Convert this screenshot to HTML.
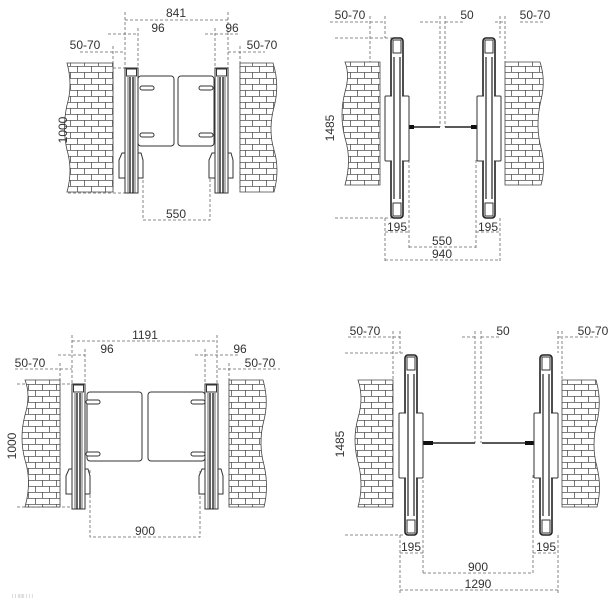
<!DOCTYPE html>
<html><head><style>html,body{margin:0;padding:0;background:#fff}svg{display:block}</style></head><body>
<svg width="615" height="600" viewBox="0 0 615 600" xmlns="http://www.w3.org/2000/svg" font-family="Liberation Sans, sans-serif" font-size="12" fill="#333">
<defs>
<pattern id="br" width="14" height="12" patternUnits="userSpaceOnUse">
<rect width="14" height="12" fill="#fff"/>
<path d="M0 0.5H14M0 6.5H14M0.5 0V6M7.5 6V12" stroke="#555" stroke-width="0.8" fill="none"/>
</pattern>
<g id="fpL">
<rect x="0" y="0" width="13" height="125" fill="#fff" stroke="#333"/>
<rect x="1.5" y="1" width="10" height="7" fill="#fff" stroke="#333"/>
<path d="M3 9V125M10 9V125" stroke="#444" stroke-width="0.8"/>
<path d="M5 9V125M8 9V125" stroke="#222" stroke-width="1.4"/>
<path d="M-6 92 L-3 85 H0 V110 H-6Z M13 85 H16 L18 92 V110 H13Z" fill="#fff" stroke="#333"/>
</g>
<g id="tp">
<rect x="0" y="0" width="12" height="180" rx="3" fill="#fff" stroke="#222" stroke-width="1.6"/>
<rect x="2" y="2" width="8" height="13" fill="#fff" stroke="#333"/>
<rect x="2" y="165" width="8" height="13" fill="#fff" stroke="#333"/>
<rect x="-6" y="58" width="10" height="65" rx="1" fill="#fff" stroke="#333"/>
<rect x="8" y="58" width="10" height="65" rx="1" fill="#fff" stroke="#333"/>
<rect x="1" y="57" width="10" height="67" fill="#fff"/>
<path d="M3 19V161M9 19V161" stroke="#222" stroke-width="1.2"/>
</g>
</defs>
<g stroke="#666" stroke-width="0.8" stroke-dasharray="3,2" fill="none">
<path d="M125 20H228M125 12V68M228 12V68M108 34H138M205 34H240M138 28V150M215 28V150M80 52H125M228 52H265M113 46V192M240 46V192M68 68H125M68 193H125M143 160V220H210V160"/>
<path d="M330 22H385M370 16V62M385 16V38M420 22H440M445 22H465M440 16V127M445 16V127M495 22H505M520 22H545M505 16V62M500 16V38M335 38H392M335 218H392M385 218V262M409 160V250M476 160V250M500 218V262M385 232H409M476 232H500M409 247H476M385 260H500"/>
<path d="M72 341H217M72 335V384M217 335V384M58 355H85M195 355H240M85 349V470M205 349V470M15 369H72M218 369H280M60 363V507M229 363V507M17 384H72M17 507H72M90 470V537H200V470"/>
<path d="M348 337H400M393 331V380M400 331V353M462 337H475M481 337H500M475 331V443M481 331V443M558 337H562M565 337H600M562 331V380M558 331V353M345 353H405M345 535H405M400 535V593M423 475V575M533 475V575M558 535V593M400 553H423M533 553H558M423 573H533M400 590H558"/>
</g>
<g stroke="#444" fill="url(#br)" stroke-width="0.8">
<path d="M67 63H113V192H67Q73 170 67 150Q62 128 67 105Q73 85 67 63Z"/>
<path d="M240 63H273Q280 85 274 107Q268 130 274 150Q280 170 274 192H240Z"/>
<path d="M345 62H380V185H345Q352 160 345 138Q339 115 345 92Q350 75 345 62Z"/>
<path d="M505 62H540Q546 80 541 100Q535 125 541 148Q546 168 541 185H505Z"/>
<path d="M25 380H60V507H25Q32 482 25 460Q19 438 25 415Q31 395 25 380Z"/>
<path d="M229 380H263Q269 400 264 420Q258 443 264 465Q269 487 264 507H229Z"/>
<path d="M358 380H393V507H358Q364 485 358 462Q352 440 358 418Q364 398 358 380Z"/>
<path d="M562 380H596Q602 400 597 422Q591 445 597 467Q602 488 597 507H562Z"/>
</g>
<g stroke="#333" fill="#fff">
<rect x="138" y="76" width="36" height="70" rx="3"/><rect x="178" y="76" width="36" height="70" rx="3"/>
<rect x="140" y="86" width="14" height="4" rx="2"/><rect x="140" y="133" width="14" height="4" rx="2"/>
<rect x="199" y="86" width="14" height="4" rx="2"/><rect x="199" y="133" width="14" height="4" rx="2"/>
<rect x="87" y="392" width="55" height="69" rx="3"/><rect x="148" y="392" width="57" height="69" rx="3"/>
<rect x="86" y="400" width="14" height="4" rx="2"/><rect x="86" y="452" width="14" height="4" rx="2"/>
<rect x="191" y="400" width="14" height="4" rx="2"/><rect x="191" y="452" width="14" height="4" rx="2"/>
</g>
<use href="#fpL" x="125" y="68"/><use href="#fpL" x="215" y="68"/>
<use href="#fpL" x="72" y="384"/><use href="#fpL" x="205" y="384"/>
<g stroke="#222" stroke-width="1.5">
<path d="M405 127H440M445 127H480"/><path d="M423 443H475M482 443H535"/>
</g>
<g stroke="#111" stroke-width="4"><path d="M405 127H414M471 127H480M423 443H433M525 443H535"/></g>
<use href="#tp" x="391" y="38"/><use href="#tp" x="483" y="38"/>
<use href="#tp" x="405" y="355"/><use href="#tp" x="540" y="355"/>
<g text-anchor="middle">
<text x="176" y="17">841</text><text x="158" y="32">96</text><text x="232" y="32">96</text>
<text x="85" y="49">50-70</text><text x="262" y="49">50-70</text>
<text x="176" y="218">550</text>
<text transform="translate(67,130) rotate(-90)">1000</text>
<text x="350" y="19">50-70</text><text x="467" y="19">50</text><text x="535" y="19">50-70</text>
<text transform="translate(334,128) rotate(-90)">1485</text>
<text x="397" y="231">195</text><text x="488" y="231">195</text>
<text x="442" y="245">550</text><text x="442" y="258">940</text>
<text x="145" y="339">1191</text><text x="107" y="353">96</text><text x="240" y="353">96</text>
<text x="30" y="367">50-70</text><text x="260" y="367">50-70</text>
<text transform="translate(16,446) rotate(-90)">1000</text>
<text x="145" y="535">900</text>
<text x="365" y="335">50-70</text><text x="503" y="335">50</text><text x="593" y="335">50-70</text>
<text transform="translate(344,444) rotate(-90)">1485</text>
<text x="411" y="551">195</text><text x="546" y="551">195</text>
<text x="478" y="571">900</text><text x="478" y="588">1290</text>
</g>
<text x="12" y="598" font-size="5" fill="#bbb">I    I   IIIII     I I     I</text>
</svg>
</body></html>
